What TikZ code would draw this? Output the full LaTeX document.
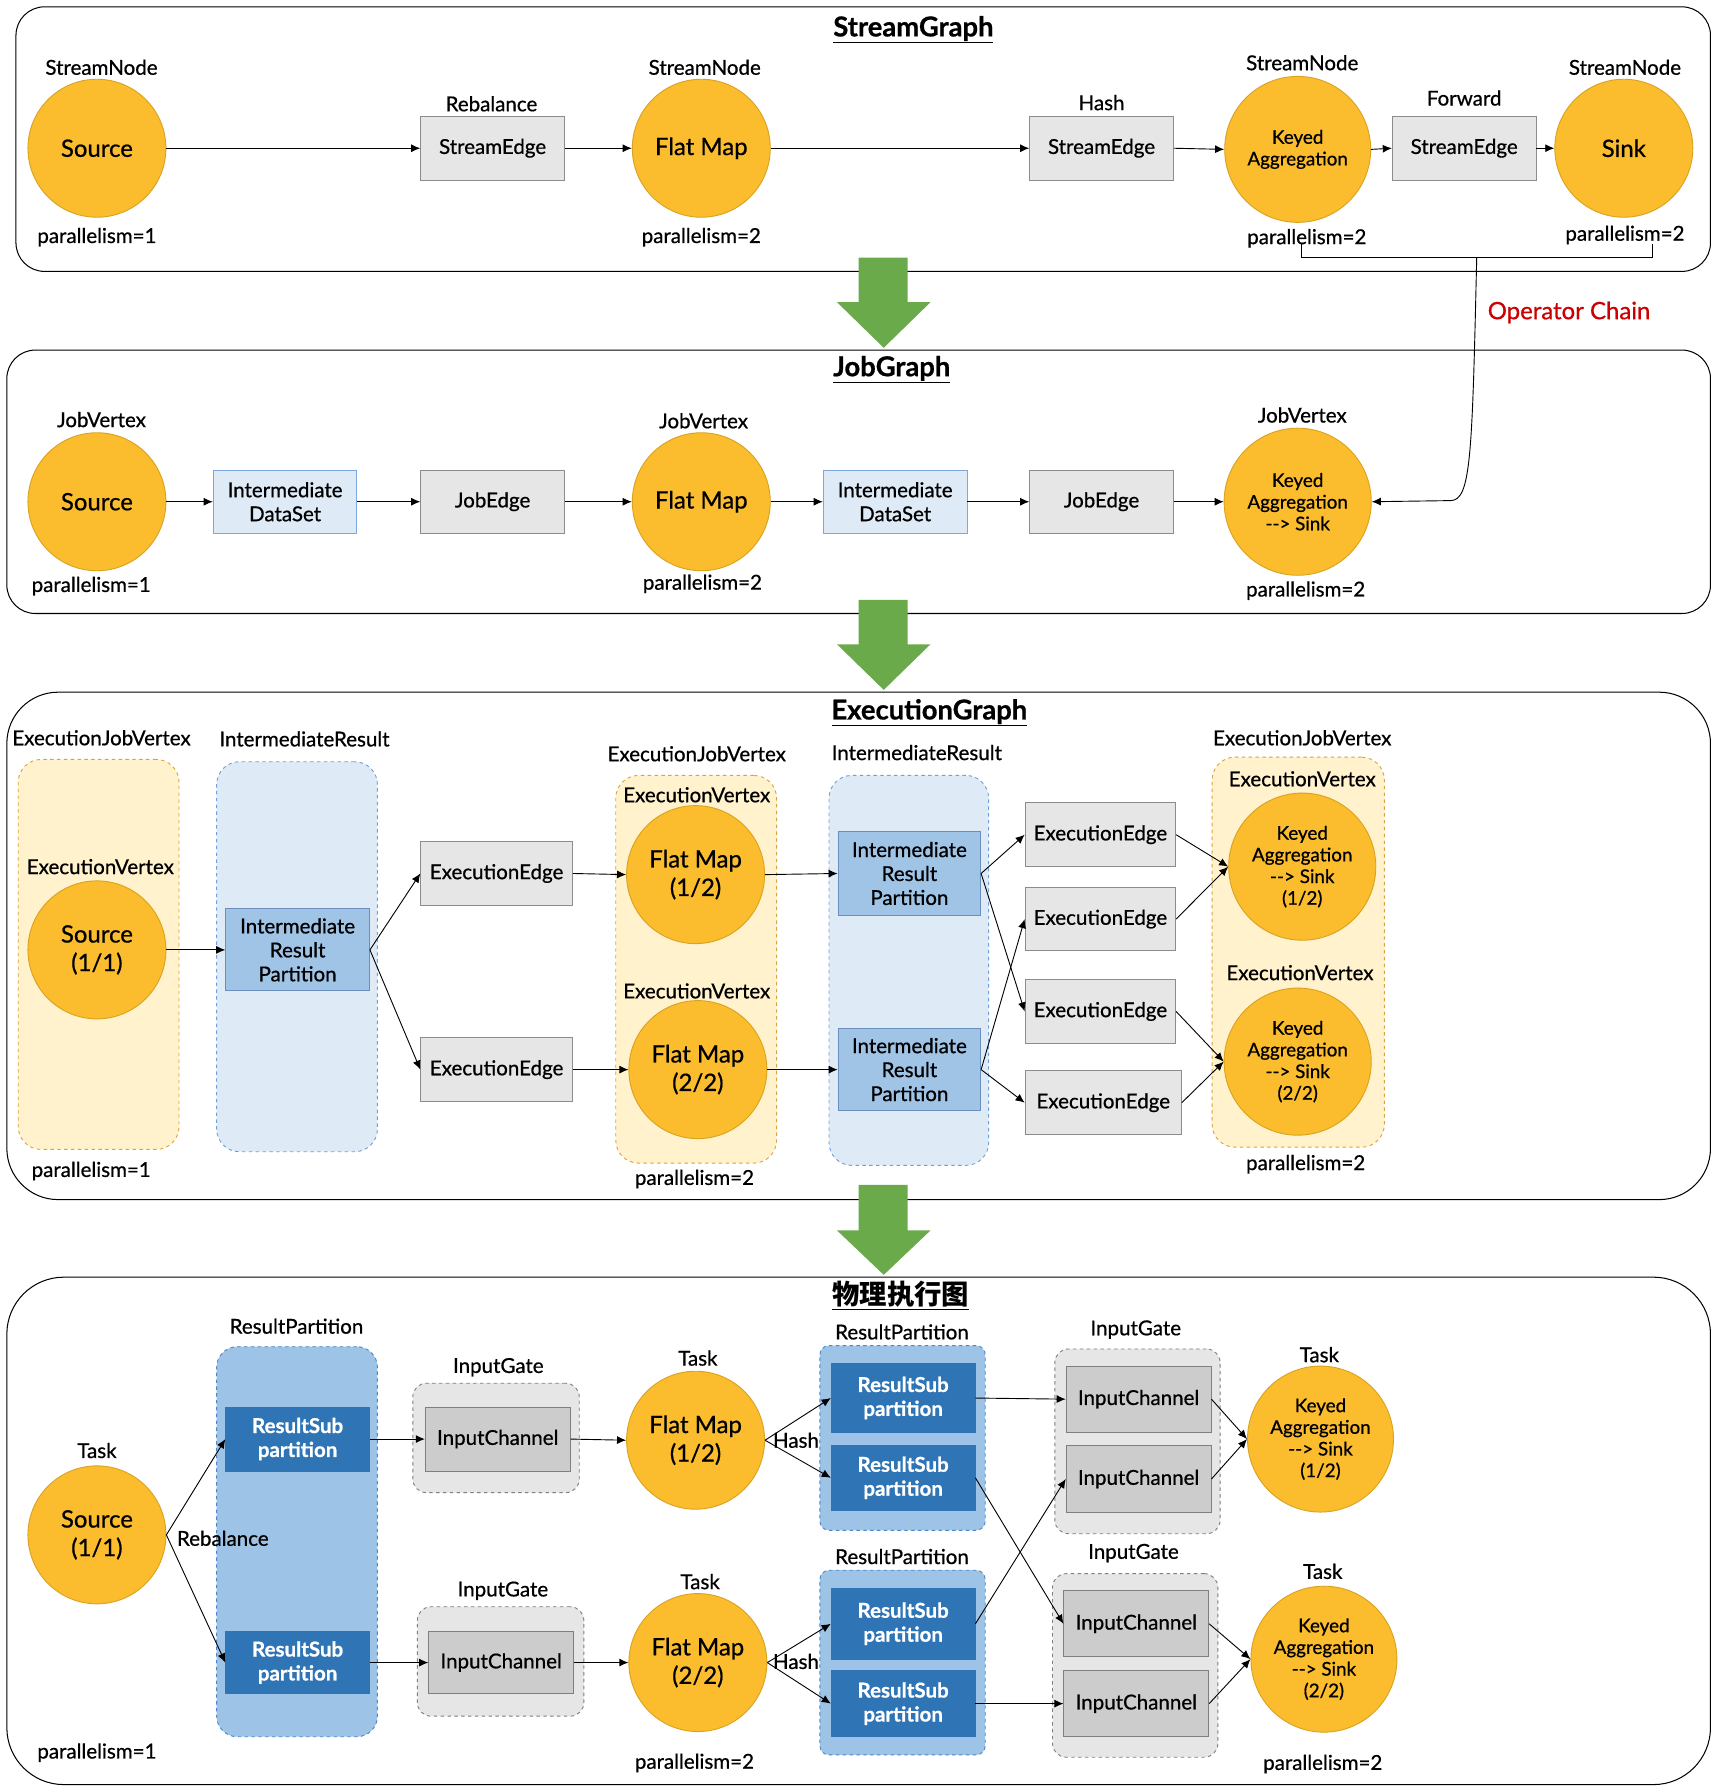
\documentclass[tikz,border=0pt]{standalone}
\usepackage{fontspec}
\setmainfont{Lato}[FakeBold=0.7]
\newfontfamily\cjk{Noto Sans CJK SC}
\usetikzlibrary{arrows.meta}
\definecolor{orng}{HTML}{FBBD2E}
\definecolor{orngd}{HTML}{D9A21F}
\definecolor{gryf}{HTML}{E6E6E6}
\definecolor{gryd}{HTML}{8C8C8C}
\definecolor{lbf}{HTML}{DEEBF7}
\definecolor{lbd}{HTML}{7EA6E0}
\definecolor{irpf}{HTML}{A0C4E6}
\definecolor{irpd}{HTML}{6C8EBF}
\definecolor{ocf}{HTML}{FFF2CC}
\definecolor{ocd}{HTML}{D9A43B}
\definecolor{bcf}{HTML}{DEEBF7}
\definecolor{bcd}{HTML}{6FA0D8}
\definecolor{pbcf}{HTML}{9DC3E6}
\definecolor{pbcd}{HTML}{4A86C8}
\definecolor{rspf}{HTML}{2F74B5}
\definecolor{icf}{HTML}{CCCCCC}
\definecolor{icd}{HTML}{7F7F7F}
\definecolor{grn}{HTML}{6AAA4B}
\definecolor{chainred}{HTML}{CC0000}
\newcommand\fsz[2]{\fontsize{#1}{#2}\selectfont}
\newcommand\dsh{\mbox{-}\mbox{-}>}
\begin{document}
\begin{tikzpicture}[x=1pt,y=-1pt,
  lbl/.style={inner sep=0pt,font=\fsz{18}{21}},
  ttl/.style={inner sep=0pt,font=\fsz{24}{28}\bfseries},
  circ/.style={circle,fill=orng,draw=orngd,line width=0.8pt,inner sep=0pt,minimum size=121pt,align=center,font=\fsz{21}{25}},
  kcirc/.style={circle,fill=orng,draw=orngd,line width=0.8pt,inner sep=0pt,minimum size=129pt,align=center,font=\fsz{16.5}{19}},
  gbox/.style={rectangle,fill=gryf,draw=gryd,line width=0.8pt,inner sep=0pt,align=center,font=\fsz{18}{21}},
  lbbox/.style={rectangle,fill=lbf,draw=lbd,line width=0.8pt,inner sep=0pt,align=center,font=\fsz{18}{21}},
  irpbox/.style={rectangle,fill=irpf,draw=irpd,line width=0.8pt,inner sep=0pt,align=center,font=\fsz{18}{21}},
  rspbox/.style={rectangle,fill=rspf,draw=rspf,line width=0.8pt,inner sep=0pt,align=center,text=white,font=\fsz{18}{21}\bfseries},
  icbox/.style={rectangle,fill=icf,draw=icd,line width=0.8pt,inner sep=0pt,align=center,font=\fsz{18}{21}},
  panel/.style={draw=black,line width=0.9pt,fill=white},
  ocont/.style={draw=ocd,fill=ocf,dashed,line width=0.8pt,rounded corners=20pt},
  bcont/.style={draw=bcd,fill=bcf,dashed,line width=0.8pt,rounded corners=20pt},
  pbcont/.style={draw=pbcd,fill=pbcf,dashed,line width=0.8pt,rounded corners=18pt},
  igcont/.style={draw=icd,fill=gryf,dashed,line width=0.8pt,rounded corners=12pt},
  arr/.style={-{Latex[length=8pt,width=7pt]},line width=0.8pt},
  garrow/.style={fill=grn}
]
\useasboundingbox (0,0) rectangle (1502,1568);

% ---------------- panels
\draw[panel,rounded corners=25pt] (14,6) rectangle (1500,238);
\draw[panel,rounded corners=25pt] (6,307) rectangle (1500,538);
\draw[panel,rounded corners=45pt] (6,607) rectangle (1500,1052);
\draw[panel,rounded corners=50pt] (6,1120) rectangle (1500,1565);

% ---------------- green arrows
\fill[garrow] (753,226) -- (796,226) -- (796,265) -- (816,265) -- (775,305) -- (734,265) -- (753,265) -- cycle;
\fill[garrow] (753,526) -- (796,526) -- (796,565) -- (816,565) -- (775,605) -- (734,565) -- (753,565) -- cycle;
\fill[garrow] (753,1039) -- (796,1039) -- (796,1079) -- (816,1079) -- (775,1118) -- (734,1079) -- (753,1079) -- cycle;

% ---------------- titles
\node[ttl] (t1) at (801,26) {\underline{StreamGraph}};
\node[ttl] (t2) at (782,324) {\underline{JobGraph}};
\node[ttl] (t3) at (815,625) {\underline{ExecutionGraph}};
\node[ttl] (t4) at (790,1136) {\cjk\bfseries\underline{物理执行图}};

% ================= StreamGraph
\node[circ] (src1) at (85,130) {Source};
\node[gbox,minimum width=126pt,minimum height=56pt] (se1) at (432,130) {StreamEdge};
\node[circ] (fm1) at (615,130) {Flat Map};
\node[gbox,minimum width=126pt,minimum height=56pt] (se2) at (966,130) {StreamEdge};
\node[kcirc,minimum size=128pt] (ka1) at (1138,131) {Keyed\\Aggregation};
\node[gbox,minimum width=126pt,minimum height=56pt] (se3) at (1284,130) {StreamEdge};
\node[circ] (sink) at (1424,130) {Sink};
\node[lbl] (l1a) at (89,59) {StreamNode};
\node[lbl] (l1b) at (618,59) {StreamNode};
\node[lbl] (l1c) at (1142,55) {StreamNode};
\node[lbl] (l1d) at (1425,59) {StreamNode};
\node[lbl] (l1e) at (431,91) {Rebalance};
\node[lbl] (l1f) at (966,90) {Hash};
\node[lbl] (l1g) at (1284,86) {Forward};
\node[lbl] (p1a) at (85,208) {parallelism=1};
\node[lbl] (p1b) at (615,208) {parallelism=2};
\node[lbl] (p1c) at (1146,209) {parallelism=2};
\node[lbl] (p1d) at (1425,206) {parallelism=2};
\draw[arr] (src1.east) -- (se1.west);
\draw[arr] (se1.east) -- (fm1.west);
\draw[arr] (fm1.east) -- (se2.west);
\draw[arr] (se2.east) -- (ka1.west);
\draw[arr] (ka1.east) -- (se3.west);
\draw[arr] (se3.east) -- (sink.west);

% operator chain bracket
\coordinate (bl) at (1141,214);
\coordinate (br) at (1449,214);
\coordinate (bm) at (1295,226);
\draw[line width=0.7pt] (bl) -- (1141,226) -- (1449,226) -- (br);
\node[inner sep=0pt,text=chainred,font=\fsz{21}{25}] (oc) at (1376,274) {Operator Chain};

% ================= JobGraph
\node[circ] (jsrc) at (85,440) {Source};
\node[lbbox,minimum width=126pt,minimum height=55pt] (jids1) at (250,440) {Intermediate\\DataSet};
\node[gbox,minimum width=126pt,minimum height=55pt] (je1) at (432,440) {JobEdge};
\node[circ] (jfm) at (615,440) {Flat Map};
\node[lbbox,minimum width=126pt,minimum height=55pt] (jids2) at (785,440) {Intermediate\\DataSet};
\node[gbox,minimum width=126pt,minimum height=55pt] (je2) at (966,440) {JobEdge};
\node[kcirc] (jka) at (1138,440) {Keyed\\Aggregation\\\dsh{} Sink};
\node[lbl] (l2a) at (89,368) {JobVertex};
\node[lbl] (l2b) at (617,369) {JobVertex};
\node[lbl] (l2c) at (1142,364) {JobVertex};
\node[lbl] (p2a) at (80,514) {parallelism=1};
\node[lbl] (p2b) at (616,512) {parallelism=2};
\node[lbl] (p2c) at (1145,518) {parallelism=2};
\draw[arr] (jsrc.east) -- (jids1.west);
\draw[arr] (jids1.east) -- (je1.west);
\draw[arr] (je1.east) -- (jfm.west);
\draw[arr] (jfm.east) -- (jids2.west);
\draw[arr] (jids2.east) -- (je2.west);
\draw[arr] (je2.east) -- (jka.west);
\draw[arr] (bm) .. controls (1291,400) and (1290,439) .. (1272,439) -- (jka.east);

% ================= ExecutionGraph
\node[ocont,minimum width=141pt,minimum height=342pt] (oc1) at (86.5,837) {};
\node[bcont,minimum width=141pt,minimum height=342pt] (bc1) at (260.5,839) {};
\node[ocont,minimum width=141pt,minimum height=340pt] (oc2) at (610.5,850) {};
\node[bcont,minimum width=140pt,minimum height=342pt] (bc2) at (797,851) {};
\node[ocont,minimum width=151pt,minimum height=342pt] (oc3) at (1138.5,835) {};
\node[lbl] (l3a) at (89,647) {ExecutionJobVertex};
\node[lbl] (l3b) at (267,648) {IntermediateResult};
\node[lbl] (l3c) at (611,661) {ExecutionJobVertex};
\node[lbl] (l3d) at (804,660) {IntermediateResult};
\node[lbl] (l3e) at (1142,647) {ExecutionJobVertex};
\node[lbl] (v3a) at (88,760) {ExecutionVertex};
\node[lbl] (v3b) at (611,697) {ExecutionVertex};
\node[lbl] (v3c) at (611,869) {ExecutionVertex};
\node[lbl] (v3d) at (1142,683) {ExecutionVertex};
\node[lbl] (v3e) at (1140,853) {ExecutionVertex};
\node[lbl] (p3a) at (80,1027) {parallelism=1};
\node[lbl] (p3b) at (609,1034) {parallelism=2};
\node[lbl] (p3c) at (1145,1021) {parallelism=2};
\node[circ] (esrc) at (85,833) {Source\\(1/1)};
\node[irpbox,minimum width=126pt,minimum height=72pt] (irp0) at (261,833) {Intermediate\\Result\\Partition};
\node[gbox,minimum width=133pt,minimum height=56pt] (ee1) at (435.5,766) {ExecutionEdge};
\node[gbox,minimum width=133pt,minimum height=56pt] (ee2) at (435.5,938) {ExecutionEdge};
\node[circ] (efm1) at (610,767) {Flat Map\\(1/2)};
\node[circ] (efm2) at (612,938) {Flat Map\\(2/2)};
\node[irpbox,minimum width=125pt,minimum height=73pt] (irp1) at (797.5,766) {Intermediate\\Result\\Partition};
\node[irpbox,minimum width=125pt,minimum height=72pt] (irp2) at (797.5,938) {Intermediate\\Result\\Partition};
\node[gbox,minimum width=132pt,minimum height=56pt] (ee3) at (965,732) {ExecutionEdge};
\node[gbox,minimum width=132pt,minimum height=55pt] (ee4) at (965,806) {ExecutionEdge};
\node[gbox,minimum width=132pt,minimum height=56pt] (ee5) at (965,887) {ExecutionEdge};
\node[gbox,minimum width=137pt,minimum height=56pt] (ee6) at (967.5,967) {ExecutionEdge};
\node[kcirc] (eka1) at (1142,760) {Keyed\\Aggregation\\\dsh{} Sink\\(1/2)};
\node[kcirc] (eka2) at (1138,931) {Keyed\\Aggregation\\\dsh{} Sink\\(2/2)};
\draw[arr] (esrc.east) -- (irp0.west);
\draw[arr] (irp0.east) -- (ee1.west);
\draw[arr] (irp0.east) -- (ee2.west);
\draw[arr] (ee1.east) -- (efm1.west);
\draw[arr] (ee2.east) -- (efm2.west);
\draw[arr] (efm1.east) -- (irp1.west);
\draw[arr] (efm2.east) -- (irp2.west);
\draw[arr] (irp1.east) -- (ee3.west);
\draw[arr] (irp1.east) -- (ee5.west);
\draw[arr] (irp2.east) -- (ee4.west);
\draw[arr] (irp2.east) -- (ee6.west);
\draw[arr] (ee3.east) -- (eka1.west);
\draw[arr] (ee4.east) -- (eka1.west);
\draw[arr] (ee5.east) -- (eka2.west);
\draw[arr] (ee6.east) -- (eka2.west);

% ================= Physical graph
\node[pbcont,minimum width=141pt,minimum height=342pt] (pbc1) at (260.5,1352) {};
\node[igcont,minimum width=146pt,minimum height=96pt] (ig1) at (435,1261) {};
\node[igcont,minimum width=146pt,minimum height=96pt] (ig2) at (439,1457) {};
\node[pbcont,rounded corners=8pt,minimum width=145pt,minimum height=162pt] (prp1) at (791.5,1261) {};
\node[pbcont,rounded corners=8pt,minimum width=145pt,minimum height=162pt] (prp2) at (791.5,1458) {};
\node[igcont,minimum width=145pt,minimum height=162pt] (ig3) at (997.5,1264) {};
\node[igcont,minimum width=145pt,minimum height=161pt] (ig4) at (995.5,1460.5) {};
\node[lbl] (l4a) at (260,1163) {ResultPartition};
\node[lbl] (l4b) at (437,1199) {InputGate};
\node[lbl] (l4c) at (441,1395) {InputGate};
\node[lbl] (l4d) at (791,1168) {ResultPartition};
\node[lbl] (l4e) at (791,1365) {ResultPartition};
\node[lbl] (l4f) at (996,1166) {InputGate};
\node[lbl] (l4g) at (994,1362) {InputGate};
\node[lbl] (k4a) at (85,1272) {Task};
\node[lbl] (k4b) at (612,1191) {Task};
\node[lbl] (k4c) at (614,1387) {Task};
\node[lbl] (k4d) at (1157,1188) {Task};
\node[lbl] (k4e) at (1160,1378) {Task};
\node[lbl] (p4a) at (85,1537) {parallelism=1};
\node[lbl] (p4b) at (609,1546) {parallelism=2};
\node[lbl] (p4c) at (1160,1547) {parallelism=2};
\node[circ] (psrc) at (85,1346) {Source\\(1/1)};
\node[rspbox,minimum width=126pt,minimum height=56pt] (rsp1) at (261,1262) {ResultSub\\partition};
\node[rspbox,minimum width=126pt,minimum height=55pt] (rsp2) at (261,1458) {ResultSub\\partition};
\node[icbox,minimum width=127pt,minimum height=56pt] (ic1) at (436.5,1262) {InputChannel};
\node[icbox,minimum width=127pt,minimum height=55pt] (ic2) at (439.5,1458) {InputChannel};
\node[circ] (pfm1) at (610,1263) {Flat Map\\(1/2)};
\node[circ] (pfm2) at (612,1458) {Flat Map\\(2/2)};
\node[rspbox,minimum width=126pt,minimum height=61pt] (rspa) at (792,1226) {ResultSub\\partition};
\node[rspbox,minimum width=126pt,minimum height=57pt] (rspb) at (792,1296) {ResultSub\\partition};
\node[rspbox,minimum width=126pt,minimum height=62pt] (rspc) at (792,1424) {ResultSub\\partition};
\node[rspbox,minimum width=126pt,minimum height=58pt] (rspd) at (792,1494) {ResultSub\\partition};
\node[icbox,minimum width=127pt,minimum height=58pt] (ic3) at (998.5,1227) {InputChannel};
\node[icbox,minimum width=127pt,minimum height=58pt] (ic4) at (998.5,1297) {InputChannel};
\node[icbox,minimum width=127pt,minimum height=58pt] (ic5) at (996.5,1424) {InputChannel};
\node[icbox,minimum width=127pt,minimum height=58pt] (ic6) at (996.5,1494) {InputChannel};
\node[kcirc,minimum size=128pt] (pka1) at (1158,1262) {Keyed\\Aggregation\\\dsh{} Sink\\(1/2)};
\node[kcirc,minimum size=128pt] (pka2) at (1161,1455) {Keyed\\Aggregation\\\dsh{} Sink\\(2/2)};
\draw[arr] (psrc.east) -- (rsp1.west);
\draw[arr] (psrc.east) -- (rsp2.west);
\draw[arr] (rsp1.east) -- (ic1.west);
\draw[arr] (rsp2.east) -- (ic2.west);
\draw[arr] (ic1.east) -- (pfm1.west);
\draw[arr] (ic2.east) -- (pfm2.west);
\draw[arr] (pfm1.east) -- (rspa.west);
\draw[arr] (pfm1.east) -- (rspb.west);
\draw[arr] (pfm2.east) -- (rspc.west);
\draw[arr] (pfm2.east) -- (rspd.west);
\draw[arr] (rspa.east) -- (ic3.west);
\draw[arr] (rspb.east) -- (ic5.west);
\draw[arr] (rspc.east) -- (ic4.west);
\draw[arr] (rspd.east) -- (ic6.west);
\draw[arr] (ic3.east) -- (pka1.west);
\draw[arr] (ic4.east) -- (pka1.west);
\draw[arr] (ic5.east) -- (pka2.west);
\draw[arr] (ic6.east) -- (pka2.west);
\node[lbl,anchor=west] (reb) at (155,1349) {Rebalance};
\node[lbl] (h1) at (698,1263) {Hash};
\node[lbl] (h2) at (698,1457) {Hash};
\end{tikzpicture}
\end{document}
